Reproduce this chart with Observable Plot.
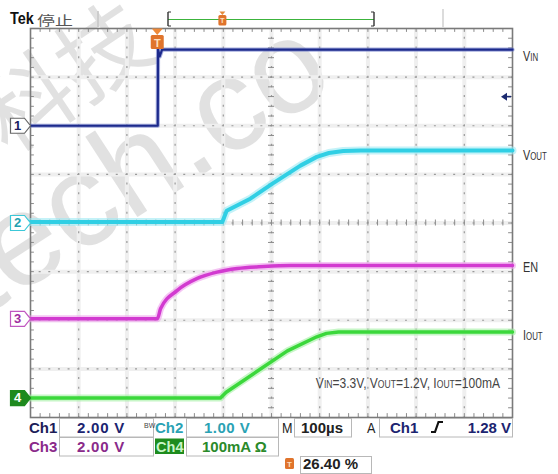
<!DOCTYPE html>
<html>
<head>
<meta charset="utf-8">
<script src="https://cdn.jsdelivr.net/npm/d3@7"></script>
<script src="https://cdn.jsdelivr.net/npm/@observablehq/plot@0.6"></script>
<style>
html,body{margin:0;padding:0;background:#fff;}
#wrap{position:relative;width:558px;height:474px;overflow:hidden;background:#fff;}
#wrap > svg{position:absolute;left:0;top:0;}
</style>
</head>
<body>
<div id="wrap"></div>
<script>
// ---------------- data ----------------
const timePerDiv = 100;          // µs per division
const triggerPct = 26.40;        // trigger position, % of record
const channels   = ["Ch1", "Ch2", "Ch3", "Ch4"];
const chNames    = [["V","IN"], ["V","OUT"], ["EN",""], ["I","OUT"]];
const chScale    = [2.00, 1.00, 2.00, 100];     // V/div, V/div, V/div, mA/div
const chGround   = [2.0, 0.0, -1.97, -3.6];     // ground marker level (div)
const chReadout  = ["2.00 V", "1.00 V", "2.00 V", "100mA Ω"];
const timebase   = "100µs";
const triggerSrc = "Ch1";
const triggerLevel = 1.28;       // V

// Ch1 = VIN (V)
const ch1Time  = [-264, 0, 0.6, 4, 9, 736];
const ch1Value = [0, 0, 3.15, 2.85, 3.13, 3.13];
// Ch2 = VOUT (V)
const ch2Time  = [-264, 134, 143, 192, 238, 296, 330, 355, 385, 421, 736];
const ch2Value = [0.02, 0.02, 0.25, 0.50, 0.81, 1.18, 1.36, 1.44, 1.48, 1.49, 1.49];
// Ch3 = EN (V)
const ch3Time  = [-264, -1, 6, 40, 82, 123, 165, 220, 276, 736];
const ch3Value = [0, 0, 0.42, 1.16, 1.66, 1.92, 2.07, 2.15, 2.19, 2.19];
// Ch4 = IOUT (mA)
const ch4Time  = [-264, 130, 142, 269, 330, 350, 375, 736];
const ch4Value = [0, 0, 12, 97, 126, 133, 136, 136];

const noteParts = [["V"],["IN",10],["=3.3V, V"],["OUT",10],["=1.2V, I"],["OUT",10],["=100mA"]];

// ---------------- layout ----------------
const W = 558, H = 474, mL = 30, mR = 46, mT = 28, mB = 57;
const nX = 10, nY = 8;
const xMin = -triggerPct / 100 * nX * timePerDiv, xMax = xMin + nX * timePerDiv;
const pxX = (W - mL - mR) / nX, pxY = (H - mT - mB) / nY;
const minorT = timePerDiv / 5;
const xsMajor = d3.range(1, nX).map(i => xMin + i * timePerDiv);
const ysMajor = d3.range(-3, 4);
const xCenter = xMin + nX / 2 * timePerDiv;
const xsMinor = d3.range(0, nX * 5 + 1).map(i => xMin + i * minorT);
const ysMinor = d3.range(0, nY * 5 + 1).map(i => -4 + i * 0.2);
const tT = 3 / pxX * timePerDiv, tD = 3 / pxY;

const traceColor = ["#1c2a8c", "#30cfe4", "#d23ad0", "#3bd83b"];
const haloColor  = ["#6a78c8", "#9ce9f3", "#eea0ec", "#a2f0a2"];
const coreW = [2.2, 4, 3.5, 3.5], haloW = [4.2, 8, 7, 7];
const curves = ["linear", "linear", "monotone-x", "linear"];
const times = [ch1Time, ch2Time, ch3Time, ch4Time];
const values = [ch1Value, ch2Value, ch3Value, ch4Value];
const traces = times.map((ts, k) => ts.map((t, i) => ({t, y: chGround[k] + values[k][i] / chScale[k], ch: channels[k]})));

const markerFill = ["#fff", "#fff", "#fff", "#1e8a1e"];
const markerStroke = ["#666", "#3cc8d8", "#c058c0", "#1e8a1e"];
const markerText = ["#1c2060", "#23a0b0", "#a02ca0", "#ffffff"];
const markers = channels.map((c, k) => ({x: xMin, y: chGround[k], n: String(k + 1), fill: markerFill[k], stroke: markerStroke[k], tc: markerText[k]}));
const tag = {draw(ctx) { ctx.moveTo(-20, -7.5); ctx.lineTo(-6, -7.5); ctx.lineTo(0, 0); ctx.lineTo(-6, 7.5); ctx.lineTo(-20, 7.5); ctx.closePath(); }};

const marks = [
  Plot.ruleX(xsMajor, {stroke: "#efefef", strokeWidth: 4}),
  Plot.ruleY(ysMajor, {stroke: "#efefef", strokeWidth: 4}),
  Plot.ruleX(xsMajor, {stroke: "#9a9a9a", strokeWidth: 1.2, strokeDasharray: `2 ${pxY / 5 - 2}`, strokeDashoffset: 1}),
  Plot.ruleY(ysMajor, {stroke: "#9a9a9a", strokeWidth: 1.2, strokeDasharray: `2 ${pxX / 5 - 2}`, strokeDashoffset: 1}),
  Plot.ruleY(ysMinor, {x1: xCenter - tT, x2: xCenter + tT, stroke: "#8c8c8c"}),
  Plot.ruleX(xsMinor, {y1: -tD, y2: tD, stroke: "#8c8c8c"}),
  Plot.ruleX(xsMinor, {y1: 4, y2: 4 - tD * 1.3, stroke: "#8c8c8c"}),
  Plot.ruleX(xsMinor, {y1: -4, y2: -4 + tD * 1.3, stroke: "#8c8c8c"}),
  Plot.ruleY(ysMinor, {x1: xMin, x2: xMin + tT * 1.3, stroke: "#8c8c8c"}),
  Plot.ruleY(ysMinor, {x1: xMax, x2: xMax - tT * 1.3, stroke: "#8c8c8c"}),
  Plot.frame({stroke: "#7a7a7a", strokeWidth: 1.6}),
];
traces.forEach((rows, k) => {
  marks.push(Plot.line(rows, {x: "t", y: "y", stroke: haloColor[k], strokeWidth: haloW[k], strokeOpacity: 0.6, curve: curves[k], strokeLinejoin: "round"}));
  marks.push(Plot.line(rows, {x: "t", y: "y", stroke: traceColor[k], strokeWidth: coreW[k], curve: curves[k], strokeLinejoin: "round"}));
});
marks.push(Plot.dot(markers, {x: "x", y: "y", symbol: tag, fill: "fill", stroke: "stroke", strokeWidth: 1.2, r: 5}));
marks.push(Plot.text(markers, {x: "x", y: "y", text: "n", fill: "tc", dx: -13, fontSize: 13, fontWeight: "bold", fontFamily: "Liberation Sans, Arial, sans-serif"}));

const chart = Plot.plot({
  width: W, height: H, marginLeft: mL, marginRight: mR, marginTop: mT, marginBottom: mB,
  x: {domain: [xMin, xMax], axis: null},
  y: {domain: [-4, 4], axis: null},
  color: {type: "identity"},
  symbol: {type: "identity"},
  style: {background: "transparent", overflow: "visible"},
  marks
});
const X = v => chart.scale("x").apply(v), Y = v => chart.scale("y").apply(v);

const wrap = document.getElementById("wrap");
const FONT = "Liberation Sans, Arial, sans-serif";

// watermark layer (behind)
const wm = d3.create("svg").attr("width", W).attr("height", H);
wm.append("text").attr("transform", "translate(8,156) rotate(-34)")
  .attr("font-family", "Noto Sans CJK SC").attr("font-size", 92).attr("fill", "#c4c4c4").attr("fill-opacity", 0.5).text("科技");
wm.append("text").attr("transform", "translate(-18,318) rotate(-33)")
  .attr("font-family", FONT).attr("font-size", 132).attr("fill", "#c4c4c4").attr("fill-opacity", 0.5).text("tech.co");
wrap.appendChild(wm.node());
wrap.appendChild(chart);

// overlay
const ov = d3.create("svg").attr("width", W).attr("height", H);
function txt(x, y, parts, o = {}) {
  const t = ov.append("text").attr("transform", `translate(${x},${y}) scale(${o.sx || 1},${o.sy || 1})`)
    .attr("font-family", o.family || FONT).attr("font-size", o.size || 14).attr("font-weight", o.weight || 400)
    .attr("fill", o.fill || "#222").attr("text-anchor", o.anchor || "start");
  if (o.ls) t.attr("letter-spacing", o.ls);
  (Array.isArray(parts) ? parts : [[parts]]).forEach(([s, fs]) => { const sp = t.append("tspan").text(s); if (fs) sp.attr("font-size", fs); });
  return t;
}
function tIcon(x, y, w, h) {
  ov.append("rect").attr("x", x).attr("y", y).attr("width", w).attr("height", h).attr("rx", 1.5).attr("fill", "#e0742c");
  txt(x + w / 2, y + h - 2.5, "T", {size: h - 3, weight: 700, fill: "#fde0c0", anchor: "middle"});
}

// header
txt(10, 24, "Tek", {size: 16, weight: 700, fill: "#111", sx: 0.9});
txt(37, 25, "停止", {size: 15, family: "Noto Sans CJK SC", fill: "#555", sx: 1.2, sy: 0.85});
ov.append("line").attr("x1", 98).attr("x2", 98).attr("y1", 11).attr("y2", 27).attr("stroke", "#c4c4c4").attr("stroke-width", 1.5);
ov.append("line").attr("x1", 443).attr("x2", 443).attr("y1", 9).attr("y2", 27).attr("stroke", "#d0d0d0").attr("stroke-width", 1.5);
const barL = 168, barR = 374, barY = 19.5;
ov.append("line").attr("x1", barL).attr("x2", barR).attr("y1", barY).attr("y2", barY).attr("stroke", "#3cb43c").attr("stroke-width", 1.2);
[barL, barR].forEach((bx, i) => {
  ov.append("line").attr("x1", bx).attr("x2", bx).attr("y1", 12).attr("y2", 26).attr("stroke", "#333").attr("stroke-width", 1.4);
  ov.append("line").attr("x1", bx).attr("x2", bx + (i ? -3 : 3)).attr("y1", 12).attr("y2", 12).attr("stroke", "#333");
  ov.append("line").attr("x1", bx).attr("x2", bx + (i ? -3 : 3)).attr("y1", 26).attr("y2", 26).attr("stroke", "#333");
});
const bt = barL + (barR - barL) * triggerPct / 100;
ov.append("path").attr("d", `M${bt - 3},11.5 L${bt + 3},11.5 L${bt},15 Z`).attr("fill", "#e38a3c");
tIcon(bt - 4, 15, 8, 10.5);

// trigger marker on graticule
const tx = X(0);
ov.append("path").attr("d", `M${tx - 5.5},28.5 L${tx + 5.5},28.5 L${tx},35 Z`).attr("fill", "#ef8a3a");
tIcon(tx - 6.5, 35, 13, 14);

// trigger level arrow
const ty = Y(chGround[0] + triggerLevel / chScale[0]) + 2.5;
ov.append("path").attr("d", `M${X(xMax) - 11},${ty} L${X(xMax) - 5},${ty - 4} L${X(xMax) - 5},${ty + 4} Z`).attr("fill", "#1c2a70");
ov.append("line").attr("x1", X(xMax) - 6).attr("x2", X(xMax) - 1).attr("y1", ty).attr("y2", ty).attr("stroke", "#1c2a70").attr("stroke-width", 1.6);

// right labels
const lblDy = [12, 10, 7, 9];
chNames.forEach(([a, b], k) => {
  const last = values[k][values[k].length - 1];
  txt(X(xMax) + 11, Y(chGround[k] + last / chScale[k]) + lblDy[k], [[a], [b, 10.5]], {size: 14.5, fill: "#333", sx: 0.75});
});

// note
txt(X(xMax) - 12, Y(-3.4), noteParts, {size: 14, fill: "#444", sx: 0.86, anchor: "end"});

// footer
function box(x, y, w, h) {
  ov.append("rect").attr("x", x).attr("y", y).attr("width", w).attr("height", h).attr("fill", "none").attr("stroke", "#b8b8b8").attr("stroke-width", 1);
}
const chTextColor = ["#1c1c58", "#2aa2b4", "#8a2a8a", "#2a8a2a"];
const valColor = ["#1c2470", "#2aa2b4", "#8a2a8a", "#2a8a2a"];
box(59.5, 418.5, 94, 18.5);
box(186.5, 418.5, 92, 18.5);
box(59.5, 437.5, 94, 18.5);
box(186.5, 437.5, 92, 18.5);
box(294.5, 418.5, 57, 18.5);
box(379.5, 418.5, 133, 18.5);
box(300.5, 456.5, 71, 17);
ov.append("rect").attr("x", 155).attr("y", 438.5).attr("width", 29).attr("height", 15.5).attr("fill", "#1e8c1e");
const fo = {size: 15, weight: 700, sx: 1};
txt(29, 433, channels[0], {...fo, fill: chTextColor[0]});
txt(77, 433, chReadout[0], {...fo, fill: valColor[0], ls: 0.8});
txt(144, 428, "BW", {size: 7, fill: "#444"});
txt(155, 433, channels[1], {...fo, fill: chTextColor[1]});
txt(204, 433, chReadout[1], {...fo, fill: valColor[1], ls: 0.5});
txt(29, 452, channels[2], {...fo, fill: chTextColor[2]});
txt(77, 452, chReadout[2], {...fo, fill: valColor[2], ls: 0.8});
txt(156, 452, channels[3], {...fo, fill: "#c8f5c8", sx: 0.97});
txt(202, 452, chReadout[3], {...fo, fill: valColor[3]});
txt(282, 433, "M", {size: 15, fill: "#222", sx: 0.84});
txt(301, 433, timebase, {...fo, fill: "#222"});
txt(367, 433, "A", {size: 15, fill: "#222", sx: 0.84});
txt(390, 433, triggerSrc, {...fo, fill: "#1c2470"});
ov.append("path").attr("d", "M431,432 L435,432 L438.5,422 L443,422").attr("fill", "none").attr("stroke", "#111").attr("stroke-width", 2.2);
txt(511, 433, triggerLevel.toFixed(2) + " V", {...fo, fill: "#1c2470", anchor: "end"});
tIcon(285, 458, 9, 11);
txt(303, 469, triggerPct.toFixed(2) + " %", {...fo, fill: "#222"});

wrap.appendChild(ov.node());
</script>
</body>
</html>
